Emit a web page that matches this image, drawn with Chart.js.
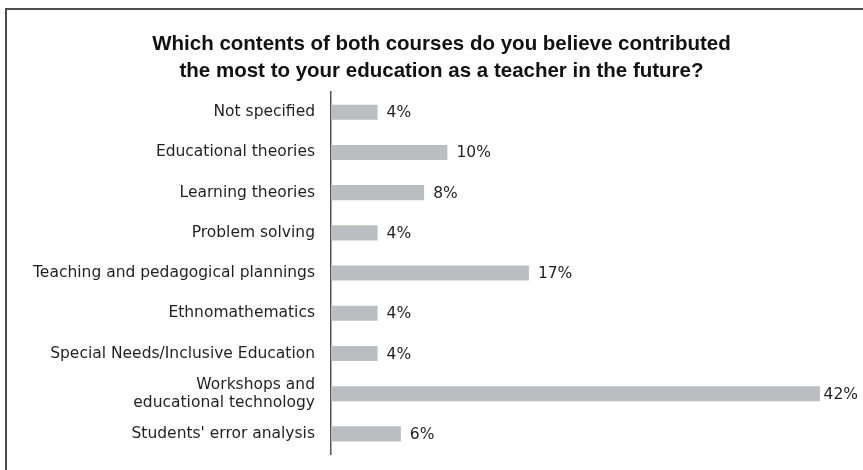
<!DOCTYPE html>
<html>
<head>
<meta charset="utf-8">
<script src="https://cdn.jsdelivr.net/npm/chart.js@4.4.1/dist/chart.umd.min.js"></script>
<style>
  html, body { margin: 0; padding: 0; background: #ffffff; overflow: hidden; }
  #wrap { position: relative; width: 863px; height: 470px; }
  canvas { position: absolute; left: 0; top: 0; }
</style>
</head>
<body>
<div id="wrap"><canvas id="c" width="863" height="470"></canvas></div>
<script>
const titleLines = [
  "Which contents of both courses do you believe contributed",
  "the most to your education as a teacher in the future?"
];
const categories = [
  "Not specified",
  "Educational theories",
  "Learning theories",
  "Problem solving",
  "Teaching and pedagogical plannings",
  "Ethnomathematics",
  "Special Needs/Inclusive Education",
  ["Workshops and", "educational technology"],
  "Students' error analysis"
];
const percentages = [4, 10, 8, 4, 17, 4, 4, 42, 6];

const labelFont = "'DejaVu Sans', sans-serif";

const framePlugin = {
  id: 'frame',
  beforeDraw(chart) {
    const ctx = chart.ctx;
    ctx.save();
    ctx.fillStyle = '#ffffff';
    ctx.fillRect(0, 0, chart.width, chart.height);
    ctx.strokeStyle = '#4d4d4d';
    ctx.lineWidth = 2;
    ctx.beginPath();
    ctx.moveTo(6, chart.height + 5);
    ctx.lineTo(6, 9);
    ctx.lineTo(chart.width + 5, 9);
    ctx.stroke();
    ctx.restore();
  }
};

const valueLabelPlugin = {
  id: 'valueLabels',
  afterDatasetsDraw(chart) {
    const ctx = chart.ctx;
    const meta = chart.getDatasetMeta(0);
    ctx.save();
    ctx.font = "15.5px " + labelFont;
    ctx.fillStyle = '#231f20';
    ctx.textAlign = 'left';
    ctx.textBaseline = 'middle';
    meta.data.forEach((bar, i) => {
      const txt = percentages[i] + '%';
      const w = ctx.measureText(txt).width;
      const x = Math.min(bar.x + 9, chart.width - 5 - w);
      ctx.fillText(txt, x, bar.y + 1);
    });
    ctx.restore();
  }
};

new Chart(document.getElementById('c'), {
  type: 'bar',
  data: {
    labels: categories,
    datasets: [{
      data: percentages,
      backgroundColor: '#bcbdc0',
      borderWidth: 0,
      barPercentage: 0.375,
      categoryPercentage: 1.0
    }]
  },
  options: {
    indexAxis: 'y',
    responsive: false,
    animation: false,
    devicePixelRatio: 1,
    layout: { padding: { top: 0, left: 20, right: 0, bottom: 16 } },
    plugins: {
      legend: { display: false },
      tooltip: { enabled: false },
      title: {
        display: true,
        text: titleLines,
        color: '#111111',
        font: { family: "'Liberation Sans', sans-serif", size: 20.5, weight: 'bold', lineHeight: 1.32 },
        padding: { top: 31, bottom: 7 }
      }
    },
    scales: {
      x: {
        display: false,
        min: 0,
        max: 45.7
      },
      y: {
        grid: { display: false, drawTicks: false },
        border: { display: true, color: '#555555', width: 1.5 },
        ticks: {
          color: '#231f20',
          font: { family: labelFont, size: 15.5, lineHeight: 1.18 },
          padding: 16
        },
        afterFit(scale) {
          scale.width = 311;
          scale.paddingTop = 0;
          scale.paddingBottom = 0;
        }
      }
    }
  },
  plugins: [framePlugin, valueLabelPlugin]
});
</script>
</body>
</html>
